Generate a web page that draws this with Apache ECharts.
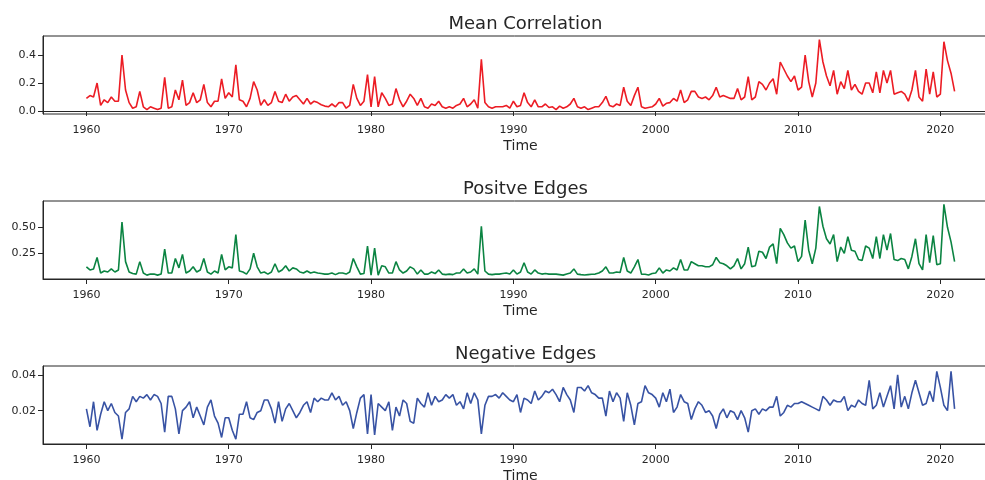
<!DOCTYPE html>
<html><head><meta charset="utf-8">
<script src="https://cdn.jsdelivr.net/npm/echarts@6/dist/echarts.min.js"></script>
<style>html,body{margin:0;padding:0;background:#fff}#c{width:985px;height:480px}</style>
</head><body><div id="c"></div>
<script>
// ---- data (quarterly samples, 1960.00 .. 2021.00) ----
const startYear = 1960;
const stepYear = 0.25;
const xTicks = [1960, 1970, 1980, 1990, 2000, 2010, 2020];
const titles = ['Mean Correlation', 'Positve Edges', 'Negative Edges'];
const xName = 'Time';

const meanCorr = [
0.09,0.11,0.10,0.20, 0.04,0.08,0.06,0.10, 0.07,0.07,0.40,0.15, 0.06,0.02,0.03,0.14,
0.03,0.01,0.03,0.02, 0.01,0.02,0.24,0.02, 0.03,0.15,0.08,0.22, 0.04,0.06,0.13,0.06,
0.08,0.19,0.06,0.03, 0.07,0.07,0.23,0.09, 0.13,0.10,0.33,0.08, 0.07,0.03,0.09,0.21,
0.15,0.04,0.08,0.04, 0.06,0.14,0.07,0.06, 0.12,0.07,0.10,0.11, 0.08,0.05,0.09,0.05,
0.07,0.06,0.045,0.035, 0.03,0.05,0.03,0.06, 0.06,0.02,0.04,0.19, 0.09,0.04,0.07,0.26,
0.03,0.245,0.03,0.13, 0.09,0.04,0.05,0.16, 0.08,0.03,0.07,0.12, 0.09,0.04,0.09,0.03,
0.02,0.05,0.04,0.07, 0.03,0.02,0.03,0.02, 0.04,0.05,0.09,0.03, 0.05,0.08,0.02,0.37,
0.06,0.03,0.02,0.03, 0.03,0.03,0.04,0.02, 0.07,0.03,0.04,0.13, 0.06,0.03,0.08,0.03,
0.03,0.05,0.025,0.03, 0.01,0.035,0.02,0.03, 0.05,0.09,0.03,0.02, 0.03,0.01,0.02,0.03,
0.03,0.06,0.105,0.04, 0.03,0.05,0.04,0.17, 0.07,0.04,0.11,0.17, 0.03,0.02,0.025,0.03,
0.05,0.09,0.035,0.055, 0.06,0.09,0.07,0.15, 0.06,0.08,0.14,0.14, 0.10,0.09,0.10,0.08,
0.11,0.17,0.10,0.11, 0.10,0.09,0.09,0.16, 0.08,0.10,0.245,0.08, 0.10,0.21,0.19,0.15,
0.20,0.23,0.12,0.35, 0.30,0.25,0.21,0.25, 0.15,0.17,0.40,0.21, 0.10,0.20,0.51,0.35,
0.25,0.18,0.29,0.12, 0.21,0.16,0.29,0.15, 0.19,0.14,0.12,0.20, 0.20,0.13,0.28,0.13,
0.29,0.20,0.29,0.12, 0.13,0.14,0.12,0.07, 0.15,0.29,0.10,0.07, 0.30,0.12,0.28,0.10,
0.12,0.495,0.36,0.27, 0.14
];

const posEdges = [
0.12,0.09,0.10,0.21, 0.06,0.08,0.07,0.10, 0.07,0.09,0.55,0.17, 0.07,0.055,0.05,0.17,
0.06,0.04,0.05,0.05, 0.04,0.05,0.29,0.06, 0.06,0.20,0.11,0.24, 0.06,0.08,0.12,0.07,
0.09,0.20,0.07,0.05, 0.08,0.06,0.24,0.09, 0.12,0.11,0.43,0.08, 0.07,0.05,0.10,0.25,
0.12,0.06,0.07,0.05, 0.07,0.15,0.07,0.09, 0.13,0.08,0.11,0.10, 0.07,0.06,0.08,0.06,
0.07,0.06,0.055,0.05, 0.05,0.06,0.045,0.06, 0.06,0.05,0.07,0.20, 0.12,0.05,0.055,0.32,
0.04,0.30,0.04,0.13, 0.12,0.06,0.06,0.17, 0.09,0.06,0.08,0.12, 0.10,0.05,0.09,0.05,
0.05,0.07,0.055,0.09, 0.05,0.045,0.05,0.045, 0.06,0.06,0.10,0.06, 0.07,0.10,0.05,0.51,
0.08,0.05,0.045,0.05, 0.05,0.055,0.06,0.05, 0.09,0.05,0.07,0.16, 0.07,0.05,0.09,0.06,
0.05,0.055,0.05,0.05, 0.05,0.045,0.04,0.05, 0.06,0.10,0.05,0.045, 0.042,0.045,0.048,0.05,
0.06,0.08,0.12,0.06, 0.06,0.07,0.065,0.21, 0.08,0.06,0.12,0.19, 0.05,0.048,0.042,0.055,
0.06,0.11,0.06,0.09, 0.08,0.11,0.09,0.19, 0.09,0.09,0.17,0.15, 0.13,0.13,0.12,0.12,
0.14,0.21,0.16,0.15, 0.13,0.10,0.13,0.20, 0.10,0.15,0.31,0.12, 0.13,0.27,0.26,0.20,
0.31,0.34,0.15,0.49, 0.43,0.35,0.30,0.32, 0.17,0.22,0.57,0.28, 0.15,0.30,0.70,0.51,
0.39,0.34,0.43,0.17, 0.31,0.25,0.41,0.28, 0.27,0.19,0.18,0.32, 0.30,0.20,0.41,0.20,
0.43,0.28,0.44,0.19, 0.18,0.20,0.19,0.10, 0.22,0.39,0.15,0.09, 0.43,0.16,0.42,0.14,
0.15,0.72,0.50,0.36, 0.17
];

const negEdges = [
0.021,0.011,0.025,0.009, 0.018,0.025,0.020,0.024, 0.019,0.017,0.004,0.019, 0.021,0.028,0.025,0.028,
0.027,0.029,0.026,0.029, 0.028,0.024,0.008,0.028, 0.028,0.021,0.007,0.020, 0.022,0.025,0.016,0.022,
0.017,0.012,0.022,0.026, 0.017,0.013,0.005,0.016, 0.016,0.009,0.004,0.018, 0.018,0.025,0.016,0.015,
0.019,0.020,0.026,0.026, 0.021,0.013,0.025,0.014, 0.021,0.024,0.020,0.016, 0.019,0.023,0.025,0.019,
0.027,0.025,0.027,0.026, 0.026,0.030,0.026,0.028, 0.023,0.025,0.020,0.010, 0.019,0.027,0.029,0.007,
0.029,0.0064,0.024,0.022, 0.020,0.025,0.009,0.022, 0.017,0.026,0.024,0.014, 0.013,0.027,0.024,0.022,
0.030,0.023,0.028,0.025, 0.026,0.029,0.027,0.029, 0.023,0.025,0.021,0.030, 0.024,0.030,0.026,0.007,
0.023,0.028,0.028,0.029, 0.027,0.030,0.028,0.026, 0.025,0.029,0.019,0.027, 0.026,0.024,0.031,0.026,
0.028,0.031,0.030,0.032, 0.029,0.025,0.033,0.029, 0.026,0.019,0.033,0.033, 0.031,0.034,0.030,0.029,
0.027,0.027,0.017,0.031, 0.025,0.030,0.027,0.014, 0.030,0.023,0.012,0.024, 0.025,0.034,0.030,0.029,
0.027,0.022,0.030,0.025, 0.032,0.019,0.022,0.029, 0.025,0.024,0.015,0.021, 0.025,0.023,0.019,0.020,
0.017,0.010,0.018,0.021, 0.016,0.020,0.019,0.015, 0.020,0.016,0.008,0.020, 0.021,0.018,0.021,0.020,
0.022,0.022,0.028,0.017, 0.019,0.023,0.022,0.024, 0.024,0.025,0.024,0.023, 0.022,0.021,0.020,0.028,
0.026,0.023,0.026,0.025, 0.025,0.028,0.020,0.023, 0.022,0.026,0.024,0.023, 0.037,0.021,0.023,0.030,
0.022,0.028,0.034,0.021, 0.040,0.022,0.028,0.021, 0.030,0.037,0.030,0.023, 0.024,0.031,0.025,0.042,
0.033,0.023,0.020,0.042, 0.021
];

const yTicksMean = [0.0, 0.2, 0.4];
const yTicksPos = [0.25, 0.50];
const yTicksNeg = [0.02, 0.04];

// ---- build ----
function pairs(vals) { return vals.map((v, i) => [startYear + i * stepYear, v]); }

const TXT = '#262626';
const FONT = 'DejaVu Sans';
const panels = [
  { vals: meanCorr, color: '#ec1c24', ymin: -0.0214, ymax: 0.5357, ticks: yTicksMean, dec: 1, top: 36 },
  { vals: posEdges, color: '#0b8442', ymin: 0.0029, ymax: 0.7529, ticks: yTicksPos, dec: 2, top: 201 },
  { vals: negEdges, color: '#3853a4', ymin: 0.00134, ymax: 0.0450, ticks: yTicksNeg, dec: 2, top: 366 }
];
const PLOT_LEFT = 43, PLOT_W = 955, PLOT_H = 78;

const option = {
  animation: false,
  backgroundColor: '#fff',
  title: panels.map((p, i) => ({
    text: titles[i], left: PLOT_LEFT + PLOT_W / 2, top: p.top - 26, textAlign: 'center',
    textStyle: { fontSize: 18, fontWeight: 'normal', color: TXT, fontFamily: FONT }
  })),
  grid: panels.map(p => ({
    left: PLOT_LEFT, top: p.top, width: PLOT_W, height: PLOT_H,
    outerBoundsMode: 'none', containLabel: false,
    show: true, borderColor: TXT, borderWidth: 1, backgroundColor: 'transparent'
  })),
  xAxis: panels.map((p, i) => ({
    type: 'value', gridIndex: i, min: 1956.95, max: 2024.05,
    name: xName, nameLocation: 'middle', nameGap: 25,
    nameTextStyle: { fontSize: 14, color: TXT, fontFamily: FONT },
    axisLine: { show: true, lineStyle: { color: TXT, width: 1 } },
    axisTick: { show: true, length: 5, customValues: xTicks, lineStyle: { color: TXT, width: 1 } },
    axisLabel: { customValues: xTicks, formatter: v => String(Math.round(v)), fontSize: 11, color: TXT, fontFamily: FONT, margin: 11 },
    splitLine: { show: false }
  })),
  yAxis: panels.map((p, i) => ({
    type: 'value', gridIndex: i, min: p.ymin, max: p.ymax,
    axisLine: { show: true, lineStyle: { color: TXT, width: 1 } },
    axisTick: { show: true, length: 5, customValues: p.ticks, lineStyle: { color: TXT, width: 1 } },
    axisLabel: { customValues: p.ticks, formatter: v => v.toFixed(p.dec), fontSize: 11, color: TXT, fontFamily: FONT, margin: 7 },
    splitLine: { show: false }
  })),
  series: panels.map((p, i) => ({
    type: 'line', xAxisIndex: i, yAxisIndex: i, data: pairs(p.vals),
    showSymbol: false, symbol: 'none', lineStyle: { color: p.color, width: 1.6 }, itemStyle: { color: p.color },
    clip: true
  }))
};

const chart = echarts.init(document.getElementById('c'), null, { renderer: 'canvas', width: 985, height: 480 });
chart.setOption(option);
</script>
</body></html>
